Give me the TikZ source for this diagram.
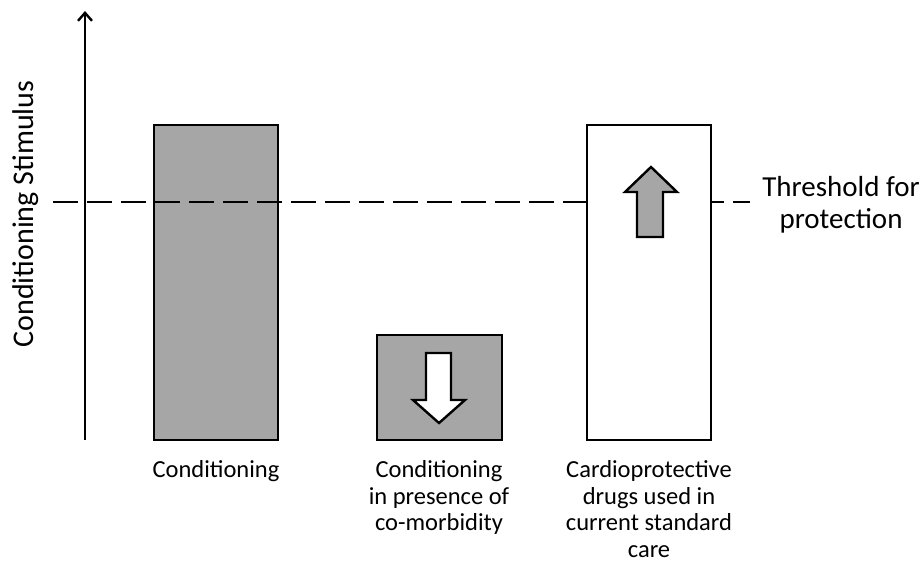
\documentclass[tikz,border=0pt]{standalone}
\usepackage{fontspec}
\setmainfont{Carlito}
\usetikzlibrary{arrows.meta}
\definecolor{bargray}{HTML}{A6A6A6}
\begin{document}
\begin{tikzpicture}[x=1pt,y=-1pt,
  barbox/.style={draw=black,line width=2.8pt},
  fatarrow/.style={draw=black,line width=2.4pt,line join=miter},
  lbl/.style={font=\fontsize{24.5}{26.8}\selectfont,align=center,inner sep=0pt,anchor=north},
  thr/.style={draw=black,line width=2.4pt,dash pattern=on 25pt off 9pt}]
\useasboundingbox (0,0) rectangle (922,568);
% threshold dashed line
\coordinate (ts) at (53,202);
\coordinate (te) at (750,202);
\draw[thr] (ts) -- (te);
% axis
\coordinate (ax0) at (85,440);
\coordinate (ax1) at (85,11);
\draw[line width=2.4pt,-{Straight Barb[length=8pt,width=14pt,line width=2.4pt]}] (ax0) -- (ax1);
\node[rotate=90,font=\fontsize{30}{32}\selectfont,inner sep=0pt,anchor=base] (ylab) at (34,214) {Conditioning Stimulus};
% bars
\draw[barbox,fill=bargray] (154,125) rectangle (278,440);
\draw[barbox,fill=bargray] (377,335) rectangle (502,440);
\draw[barbox,fill=white] (587,125) rectangle (711,440);
% redraw dashed line over bar1 (visible inside grey bar)
\draw[thr] (ts) -- (278,202);
% down arrow
\draw[fatarrow,fill=white] (426,353) -- (451,353) -- (451,400) -- (465,400) -- (439,423) -- (413,400) -- (426,400) -- cycle;
% up arrow
\draw[fatarrow,fill=bargray] (637,237) -- (663,237) -- (663,192) -- (677,192) -- (651,167) -- (625,192) -- (637,192) -- cycle;
% labels
\node[lbl] (l1) at (216,460) {Conditioning};
\node[lbl] (l2) at (439,460) {Conditioning\\in presence of\\co-morbidity};
\node[lbl] (l3) at (649,460) {Cardioprotective\\drugs used in\\current standard\\care};
\node[lbl,font=\fontsize{29}{32}\selectfont] (th) at (841,176) {Threshold for\\protection};
\end{tikzpicture}
\end{document}
